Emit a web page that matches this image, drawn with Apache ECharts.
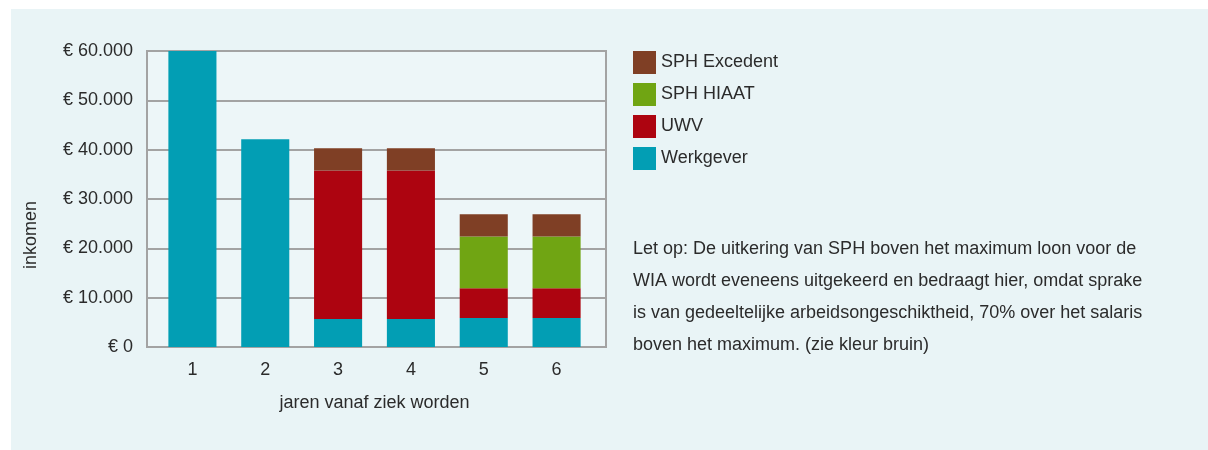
<!DOCTYPE html>
<html>
<head>
<meta charset="utf-8">
<script src="https://cdn.jsdelivr.net/npm/echarts@6/dist/echarts.min.js"></script>
<style>
  html, body { margin: 0; padding: 0; background: #ffffff; }
  #panel { position: absolute; left: 11px; top: 9px; width: 1197px; height: 441px; background: #e9f4f6; }
  #chart { position: absolute; left: 0; top: 0; width: 1208px; height: 450px; }
</style>
</head>
<body>
<div id="panel"></div>
<div id="chart"></div>
<script>
// ---- data ----
const categories = ['1', '2', '3', '4', '5', '6'];
const werkgever = [60000, 42100, 5700, 5700, 5900, 5900];
const uwv       = [0, 0, 30100, 30100, 6000, 6000];
const sphHiaat  = [0, 0, 0, 0, 10500, 10500];
const sphExcedent = [0, 0, 4500, 4500, 4500, 4500];
const seriesNames = ['Werkgever', 'UWV', 'SPH HIAAT', 'SPH Excedent'];
const legendOrder = ['SPH Excedent', 'SPH HIAAT', 'UWV', 'Werkgever'];
const yAxisName = 'inkomen';
const xAxisName = 'jaren vanaf ziek worden';
const noteLines = [
  'Let op: De uitkering van SPH boven het maximum loon voor de',
  'WIA wordt eveneens uitgekeerd en bedraagt hier, omdat sprake',
  'is van gedeeltelijke arbeidsongeschiktheid, 70% over het salaris',
  'boven het maximum. (zie kleur bruin)'
];

const FONT = '"Liberation Sans", Arial, sans-serif';
const TXT = '#2b2b2b';
const GRID_C = '#a3a3a3';
const colors = { 'Werkgever': '#029eb4', 'UWV': '#ad0410', 'SPH HIAAT': '#70a513', 'SPH Excedent': '#7f3f25' };
const values = { 'Werkgever': werkgever, 'UWV': uwv, 'SPH HIAAT': sphHiaat, 'SPH Excedent': sphExcedent };

function euro(v) {
  const s = String(Math.round(v)).replace(/\B(?=(\d{3})+(?!\d))/g, '.');
  return '€ ' + s;
}

const chart = echarts.init(document.getElementById('chart'), null, { renderer: 'canvas' });
chart.setOption({
  animation: false,
  textStyle: { fontFamily: FONT, color: TXT },
  grid: [
    { // frame + gridlines
      left: 147, right: 602, top: 51, bottom: 103,
      show: true, borderColor: GRID_C, borderWidth: 2, backgroundColor: '#edf6f8'
    },
    { // bars (inset horizontally like the original)
      left: 156, right: 615, top: 51, bottom: 103
    }
  ],
  legend: {
    orient: 'vertical', left: 633, top: 51, padding: 0,
    itemWidth: 23, itemHeight: 23, itemGap: 9,
    icon: 'rect',
    data: legendOrder,
    textStyle: { fontFamily: FONT, fontSize: 18, color: TXT, padding: [10, 0, -10, 0] }
  },
  xAxis: [
    {
      gridIndex: 0, type: 'category', data: categories,
      axisLine: { show: true, lineStyle: { color: GRID_C, width: 2 } },
      axisTick: { show: false }, axisLabel: { show: false }
    },
    {
      gridIndex: 1, type: 'category', data: categories,
      axisLine: { show: false },
      axisTick: { show: false },
      axisLabel: { fontFamily: FONT, fontSize: 18, color: TXT, margin: 14 },
      name: xAxisName, nameLocation: 'middle', nameGap: 47,
      nameTextStyle: { fontFamily: FONT, fontSize: 18, color: TXT }
    }
  ],
  yAxis: [
    {
      gridIndex: 0, type: 'value', min: 0, max: 60000, interval: 10000,
      axisLine: { show: true, lineStyle: { color: GRID_C, width: 2 } },
      axisTick: { show: false },
      splitLine: { show: true, lineStyle: { color: GRID_C, width: 2 } },
      axisLabel: { fontFamily: FONT, fontSize: 18, color: TXT, margin: 14, formatter: euro }
    },
    {
      gridIndex: 1, type: 'value', min: 0, max: 60000, interval: 10000,
      show: false, splitLine: { show: false }
    }
  ],
  graphic: [
    {
      type: 'text', x: 31, y: 235, rotation: Math.PI / 2,
      style: { text: yAxisName, font: '18px ' + FONT, fill: TXT, textAlign: 'center', textVerticalAlign: 'middle' }
    },
    {
      type: 'text', left: 633, top: 233,
      style: { text: noteLines.join('\n'), font: '18px ' + FONT, fill: TXT, lineHeight: 32 }
    }
  ],
  series: seriesNames.map(n => ({
    name: n, type: 'bar', stack: 'total',
    xAxisIndex: 1, yAxisIndex: 1,
    data: values[n],
    barWidth: '66%',
    itemStyle: { color: colors[n] },
    emphasis: { disabled: true }
  }))
});
</script>
</body>
</html>
